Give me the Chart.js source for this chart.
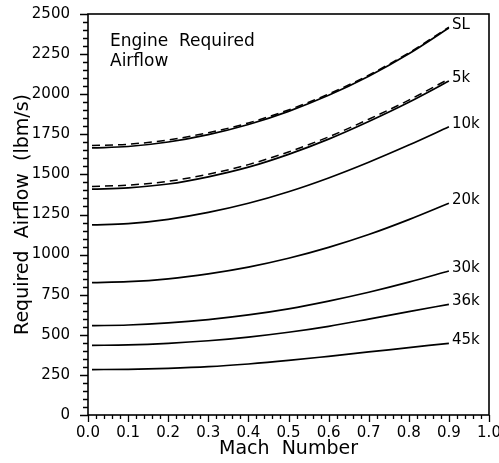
<!DOCTYPE html>
<html>
<head>
<meta charset="utf-8">
<script src="https://cdn.jsdelivr.net/npm/chart.js@4.4.1/dist/chart.umd.min.js"></script>
<style>
  html, body { margin: 0; padding: 0; background: #fff; }
  #wrap { width: 499px; height: 463px; }
</style>
</head>
<body>
<div id="wrap"><canvas id="c"></canvas></div>
<script>
// Mach numbers where the curves were read
const mach = [0.01, 0.1, 0.2, 0.3, 0.4, 0.5, 0.6, 0.7, 0.8, 0.9];

// Required airflow (lbm/s), solid curves
const sl  = [1665, 1674, 1702, 1748, 1811, 1893, 1993, 2112, 2252, 2413];
const k5  = [1408, 1416, 1440, 1485, 1545, 1625, 1720, 1830, 1950, 2082];
const k10 = [1185, 1193, 1220, 1263, 1320, 1392, 1478, 1576, 1683, 1797];
const k20 = [825, 831, 849, 880, 922, 977, 1045, 1125, 1218, 1320];
const k30 = [557, 561, 574, 595, 624, 662, 710, 765, 828, 898];
const k36 = [434, 437, 447, 463, 486, 516, 553, 598, 645, 690];
const k45 = [283, 285, 291, 301, 318, 340, 366, 393, 420, 447];

// dashed companions for SL and 5k
const slDash = [1680, 1688, 1715, 1760, 1821, 1902, 2001, 2119, 2258, 2418];
const k5Dash = [1425, 1433, 1457, 1501, 1561, 1640, 1734, 1844, 1963, 2095];

const curveNames = ['SL', '5k', '10k', '20k', '30k', '36k', '45k'];
const solidSeries = [sl, k5, k10, k20, k30, k36, k45];

const FONT = "'DejaVu Sans', sans-serif";

const toPoints = (vals) => vals.map((v, i) => ({ x: mach[i], y: v }));

const datasets = solidSeries.map((vals, i) => ({
    label: curveNames[i],
    data: toPoints(vals),
    borderColor: '#000',
    borderWidth: 1.7,
    pointRadius: 0,
    cubicInterpolationMode: 'monotone',
}));
[slDash, k5Dash].forEach((vals, i) => {
    datasets.push({
        label: curveNames[i] + ' dashed',
        data: toPoints(vals),
        borderColor: '#000',
        borderWidth: 1.5,
        borderDash: [8, 5],
        pointRadius: 0,
        cubicInterpolationMode: 'monotone',
    });
});

// box, tick marks and text labels
const decor = {
    id: 'decor',
    afterDraw(chart) {
        const { ctx, scales: { x, y } } = chart;
        // plot box taken from the scales themselves
        const left = x.getPixelForValue(0), right = x.getPixelForValue(1);
        const top = y.getPixelForValue(2500), bottom = y.getPixelForValue(0);
        ctx.save();
        ctx.strokeStyle = '#000';
        ctx.lineWidth = 1.6;
        ctx.strokeRect(left, top, right - left, bottom - top);

        ctx.lineWidth = 1.3;
        ctx.beginPath();
        for (let v = 0; v <= 2500; v += 50) {
            const p = Math.round(y.getPixelForValue(v)) + 0.5;
            const len = v % 250 === 0 ? 8 : 5;
            ctx.moveTo(left - len, p);
            ctx.lineTo(left, p);
        }
        for (let i = 0; i <= 50; i++) {
            const p = Math.round(x.getPixelForValue(i / 50)) + 0.5;
            const len = i % 5 === 0 ? 7 : 4;
            ctx.moveTo(p, bottom);
            ctx.lineTo(p, bottom + len);
        }
        ctx.stroke();

        // curve labels at the right end of each line
        ctx.fillStyle = '#000';
        ctx.font = '15px ' + FONT;
        ctx.textBaseline = 'middle';
        ctx.textAlign = 'left';
        solidSeries.forEach((vals, i) => {
            const last = vals.length - 1;
            const px = x.getPixelForValue(mach[last]) + 3;
            const py = y.getPixelForValue(vals[last]) - 3;
            ctx.fillText(curveNames[i], px, py);
        });

        // note inside the plot
        ctx.font = '17px ' + FONT;
        ctx.textBaseline = 'alphabetic';
        ctx.fillText('Engine  Required', left + 22, 46);
        ctx.fillText('Airflow', left + 22, 66);
        ctx.restore();
    }
};

new Chart(document.getElementById('c'), {
    type: 'line',
    data: { datasets },
    options: {
        responsive: true,
        maintainAspectRatio: false,
        animation: false,
        layout: { padding: { top: 14, right: 10, left: 0, bottom: 0 } },
        plugins: { legend: { display: false }, tooltip: { enabled: false } },
        scales: {
            x: {
                type: 'linear',
                min: 0,
                max: 1,
                grid: { display: false },
                border: { display: false },
                ticks: {
                    stepSize: 0.1,
                    color: '#000',
                    font: { family: FONT, size: 15 },
                    padding: 1,
                    maxRotation: 0,
                    callback: (v) => v.toFixed(1),
                },
                title: {
                    display: true,
                    text: 'Mach  Number',
                    color: '#000',
                    font: { family: FONT, size: 19 },
                    padding: { top: 0, bottom: 3 },
                },
                afterFit: (s) => {
                    s.height = 48;
                    s.paddingLeft = 0;
                    s.paddingRight = 0;
                },
            },
            y: {
                min: 0,
                max: 2500,
                grid: { display: false },
                border: { display: false },
                ticks: {
                    stepSize: 250,
                    color: '#000',
                    font: { family: FONT, size: 15 },
                    padding: 10,
                    callback: (v) => String(v),
                },
                title: {
                    display: true,
                    text: 'Required  Airflow  (lbm/s)',
                    color: '#000',
                    font: { family: FONT, size: 19 },
                    padding: { top: 12, bottom: 0 },
                },
                afterFit: (s) => {
                    s.width = 88;
                    s.paddingTop = 0;
                    s.paddingBottom = 0;
                },
            },
        },
    },
    plugins: [decor],
});
</script>
</body>
</html>
